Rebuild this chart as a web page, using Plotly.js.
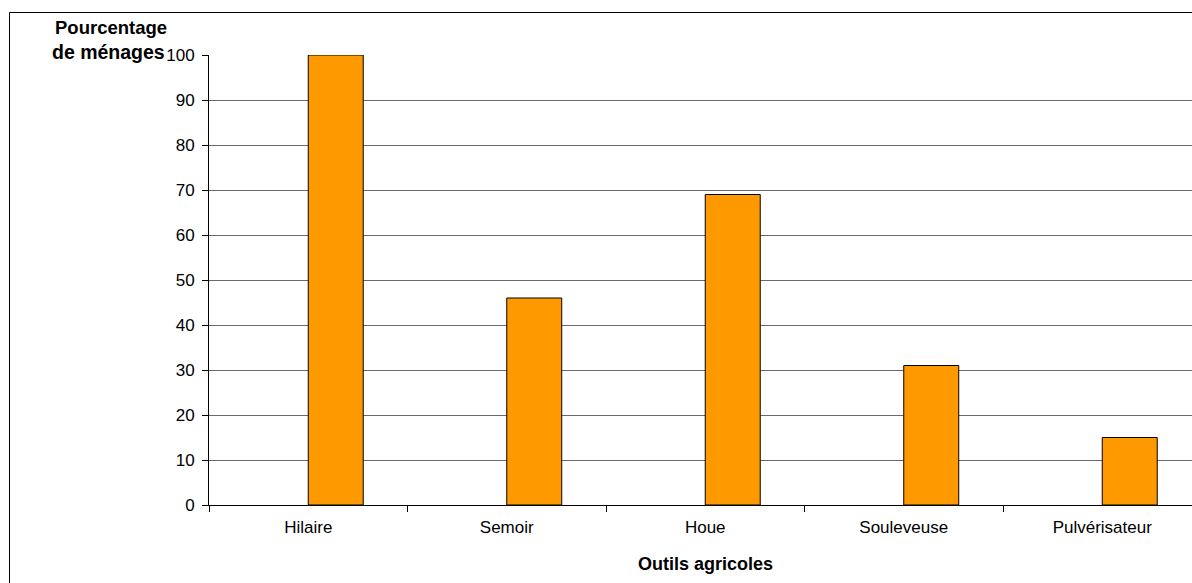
<!DOCTYPE html>
<html>
<head>
<meta charset="utf-8">
<script src="https://cdn.plot.ly/plotly-3.0.1.min.js"></script>
<style>
html,body{margin:0;padding:0;overflow:hidden;background:#fff;}
#chart{width:1192px;height:583px;}
</style>
</head>
<body>
<div id="chart"></div>
<script>
const categories = ["Hilaire", "Semoir", "Houe", "Souleveuse", "Pulvérisateur"];
const values = [100, 46, 69, 31, 15];
const yTickVals = [0, 10, 20, 30, 40, 50, 60, 70, 80, 90, 100];
const yTitleLines = ["Pourcentage", "de ménages"];
const xTitle = "Outils agricoles";

const L = 209, R = 1192, T = 55, B = 505;
const W = R - L, H = B - T;
const px = v => (v - L) / W;
const py = v => (B - v) / H;
const font = "Liberation Sans, Arial, sans-serif";

const trace = {
  type: "bar",
  x: categories,
  y: values,
  width: 0.277,
  offset: 0,
  marker: {color: "#FF9900", line: {color: "#000000", width: 1}},
  hoverinfo: "x+y"
};

const layout = {
  width: 1192,
  height: 583,
  margin: {l: L, r: 1192 - R, t: T, b: 583 - B, pad: 0},
  paper_bgcolor: "#ffffff",
  plot_bgcolor: "#ffffff",
  showlegend: false,
  font: {family: font, size: 17, color: "#000"},
  xaxis: {
    type: "category",
    range: [-0.5, -0.5 + W / 198.5],
    tickson: "boundaries",
    ticks: "outside",
    ticklen: 6,
    tickcolor: "#000",
    showgrid: false,
    showline: true,
    linecolor: "#000",
    linewidth: 1,
    zeroline: false,
    ticklabelstandoff: 7,
    tickfont: {family: font, size: 17, color: "#000"},
    fixedrange: true
  },
  yaxis: {
    range: [0, 100],
    tickvals: yTickVals,
    ticks: "outside",
    ticklen: 6,
    tickcolor: "#000",
    showgrid: true,
    gridcolor: "#6a6a6a",
    gridwidth: 1,
    showline: true,
    linecolor: "#000",
    linewidth: 1,
    zeroline: false,
    ticklabelstandoff: 4,
    tickfont: {family: font, size: 17, color: "#000"},
    fixedrange: true
  },
  annotations: [
    {text: "<b>" + yTitleLines[0] + "</b>", xref: "paper", yref: "paper",
     x: px(111), y: py(27), xanchor: "center", yanchor: "middle", showarrow: false,
     font: {family: font, size: 18.5, color: "#000"}},
    {text: "<b>" + yTitleLines[1] + "</b>", xref: "paper", yref: "paper",
     x: px(167), y: py(52), xanchor: "right", yanchor: "middle", showarrow: false,
     font: {family: font, size: 19.5, color: "#000"}},
    {text: "<b>" + xTitle + "</b>", xref: "paper", yref: "paper",
     x: px(705), y: py(564), xanchor: "center", yanchor: "middle", showarrow: false,
     font: {family: font, size: 18, color: "#000"}}
  ],
  shapes: [
    {type: "rect", xref: "paper", yref: "paper", layer: "below",
     x0: px(9.5), x1: px(1400), y0: py(800), y1: py(12.5),
     line: {color: "#000", width: 1}, fillcolor: "rgba(0,0,0,0)"}
  ]
};

Plotly.newPlot("chart", [trace], layout, {displayModeBar: false, staticPlot: true});
</script>
</body>
</html>
